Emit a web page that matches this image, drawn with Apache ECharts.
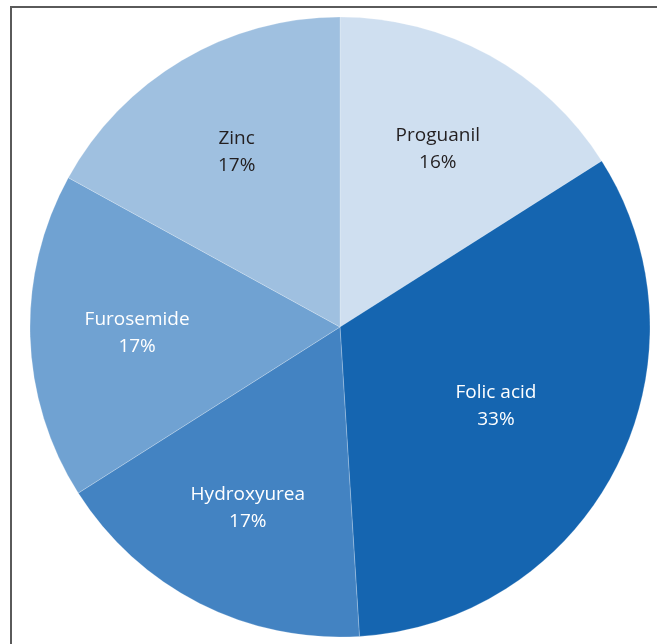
<!DOCTYPE html>
<html>
<head>
<meta charset="utf-8">
<style>
  html, body { margin: 0; padding: 0; background: #ffffff; }
  #chart { width: 657px; height: 644px; }
</style>
<script src="https://cdn.jsdelivr.net/npm/echarts@6/dist/echarts.min.js"></script>
</head>
<body>
<div id="chart"></div>
<script>
const categories = ['Proguanil', 'Folic acid', 'Hydroxyurea', 'Furosemide', 'Zinc'];
const values = [16, 33, 17, 17, 17];
const sliceColors = ['#cfdff0', '#1565b0', '#4383c2', '#70a2d2', '#9fc0e0'];
const labelColors = ['#231f20', '#ffffff', '#ffffff', '#ffffff', '#231f20'];
// which slices get their label placed nearer the centre
const nearLabel = [false, true, false, false, false];

const chart = echarts.init(document.getElementById('chart'), null, { renderer: 'canvas' });

const CENTER = [340, 327];
const R = 310;

const baseData = categories.map((c, i) => ({
  name: c,
  value: values[i],
  itemStyle: { color: sliceColors[i] }
}));

function labelData(near) {
  return categories.map((c, i) => ({
    name: c,
    value: values[i],
    itemStyle: { color: 'rgba(0,0,0,0)' },
    label: { show: nearLabel[i] === near, color: labelColors[i] }
  }));
}

const labelStyle = {
  position: 'inside',
  fontFamily: 'Open Sans',
  fontSize: 19,
  lineHeight: 27,
  align: 'center',
  formatter: p => p.name + '\n' + p.value + '%'
};

const option = {
  animation: false,
  backgroundColor: '#ffffff',
  graphic: [
    { type: 'line', shape: { x1: 11, y1: 7, x2: 657, y2: 7 }, style: { stroke: '#5a5a5a', lineWidth: 2 } },
    { type: 'line', shape: { x1: 11, y1: 6, x2: 11, y2: 644 }, style: { stroke: '#5a5a5a', lineWidth: 2 } }
  ],
  series: [
    {
      type: 'pie',
      center: CENTER,
      radius: [0, R],
      startAngle: 90,
      clockwise: true,
      avoidLabelOverlap: false,
      silent: true,
      label: { show: false },
      labelLine: { show: false },
      itemStyle: { borderColor: 'rgba(255,255,255,0.35)', borderWidth: 0.6 },
      data: baseData
    },
    {
      type: 'pie',
      center: CENTER,
      radius: [0, 400],
      startAngle: 90,
      clockwise: true,
      avoidLabelOverlap: false,
      silent: true,
      label: labelStyle,
      labelLine: { show: false },
      data: labelData(false)
    },
    {
      type: 'pie',
      center: CENTER,
      radius: [0, 344],
      startAngle: 90,
      clockwise: true,
      avoidLabelOverlap: false,
      silent: true,
      label: labelStyle,
      labelLine: { show: false },
      data: labelData(true)
    }
  ]
};

chart.setOption(option);
</script>
</body>
</html>
